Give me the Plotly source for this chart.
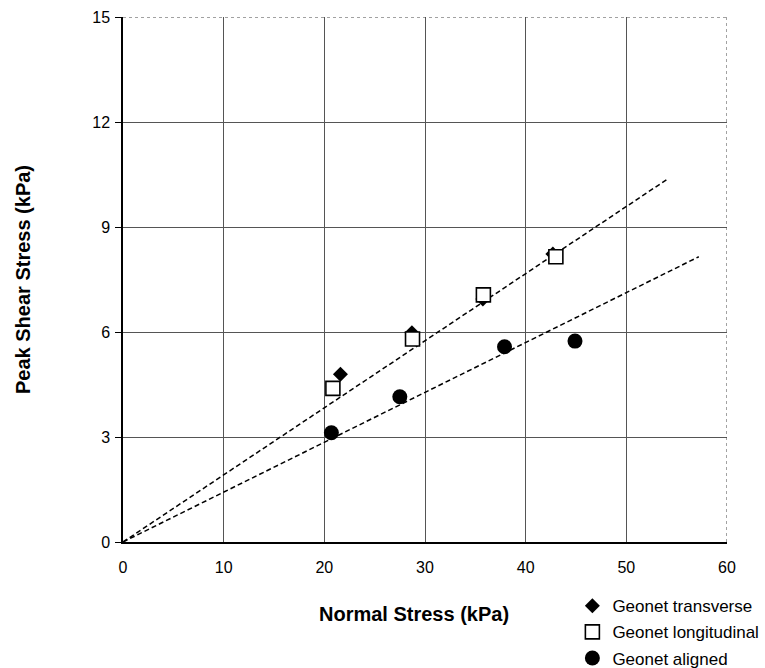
import plotly.graph_objects as go

# Data
trans_x = [21.6, 28.7, 35.75, 42.7]
trans_y = [4.79, 5.98, 6.94, 8.23]
long_x = [20.85, 28.76, 35.8, 43.0]
long_y = [4.39, 5.80, 7.06, 8.15]
align_x = [20.7, 27.5, 37.9, 44.9]
align_y = [3.12, 4.15, 5.58, 5.74]
# trend lines through origin (endpoints)
trend_upper_x = [0, 54.2]
trend_upper_y = [0, 10.39]
trend_lower_x = [0, 57.2]
trend_lower_y = [0, 8.15]

x_ticks = [0, 10, 20, 30, 40, 50, 60]
y_ticks = [0, 3, 6, 9, 12, 15]

x_title = "Normal Stress (kPa)"
y_title = "Peak Shear Stress (kPa)"

FONT = "Liberation Sans, Arial, sans-serif"

fig = go.Figure()

fig.add_trace(go.Scatter(x=trend_upper_x, y=trend_upper_y, mode="lines",
                         line=dict(color="black", width=1.5, dash="5px,3px"),
                         showlegend=False, hoverinfo="skip"))
fig.add_trace(go.Scatter(x=trend_lower_x, y=trend_lower_y, mode="lines",
                         line=dict(color="black", width=1.5, dash="5px,3px"),
                         showlegend=False, hoverinfo="skip"))

fig.add_trace(go.Scatter(x=trans_x, y=trans_y, mode="markers", name="Geonet transverse",
                         legendgroup="a",
                         marker=dict(symbol="diamond", size=11.5, color="black",
                                     line=dict(width=0))))
fig.add_trace(go.Scatter(x=long_x, y=long_y, mode="markers", name="Geonet longitudinal",
                         legendgroup="b",
                         marker=dict(symbol="square", size=14, color="white",
                                     line=dict(color="black", width=1.6))))
fig.add_trace(go.Scatter(x=align_x, y=align_y, mode="markers", name="Geonet aligned",
                         legendgroup="c",
                         marker=dict(symbol="circle", size=15, color="black",
                                     line=dict(width=0))))

# dotted top and right border
fig.add_shape(type="line", xref="x", yref="y", x0=0, x1=60, y0=15, y1=15,
              line=dict(color="#444", width=1, dash="dot"), layer="above")
fig.add_shape(type="line", xref="x", yref="y", x0=60, x1=60, y0=0, y1=15,
              line=dict(color="#444", width=1, dash="dot"), layer="above")

fig.add_annotation(text="<b>" + x_title + "</b>", xref="paper", yref="paper",
                   x=0.4825, y=-0.138, xanchor="center", yanchor="middle",
                   showarrow=False, font=dict(size=20, family=FONT, color="black"))

fig.update_layout(
    width=765, height=668,
    margin=dict(l=122.5, r=38.3, t=17.3, b=126.3, pad=0, autoexpand=False),
    paper_bgcolor="white", plot_bgcolor="white",
    font=dict(family=FONT, color="black", size=16),
    showlegend=True,
    legend=dict(x=0.744, y=-0.088, xanchor="left", yanchor="top",
                font=dict(family=FONT, size=17, color="black"),
                tracegroupgap=1, bgcolor="rgba(0,0,0,0)", itemclick=False),
    xaxis=dict(range=[0, 60], tickvals=x_ticks, ticks="", showgrid=True,
               gridcolor="#555", gridwidth=1, zeroline=False,
               showline=True, linecolor="black", linewidth=1.5,
               tickfont=dict(size=16, family=FONT), ticklabelstandoff=10),
    yaxis=dict(range=[0, 15], tickvals=y_ticks, ticks="outside", ticklen=6,
               tickcolor="black", showgrid=True, gridcolor="#555", gridwidth=1,
               zeroline=False, showline=True, linecolor="black", linewidth=1.5,
               tickfont=dict(size=16, family=FONT), ticklabelstandoff=2,
               title=dict(text="<b>" + y_title + "</b>", font=dict(size=20, family=FONT),
                          standoff=56)),
)

fig.write_html("out.html")
